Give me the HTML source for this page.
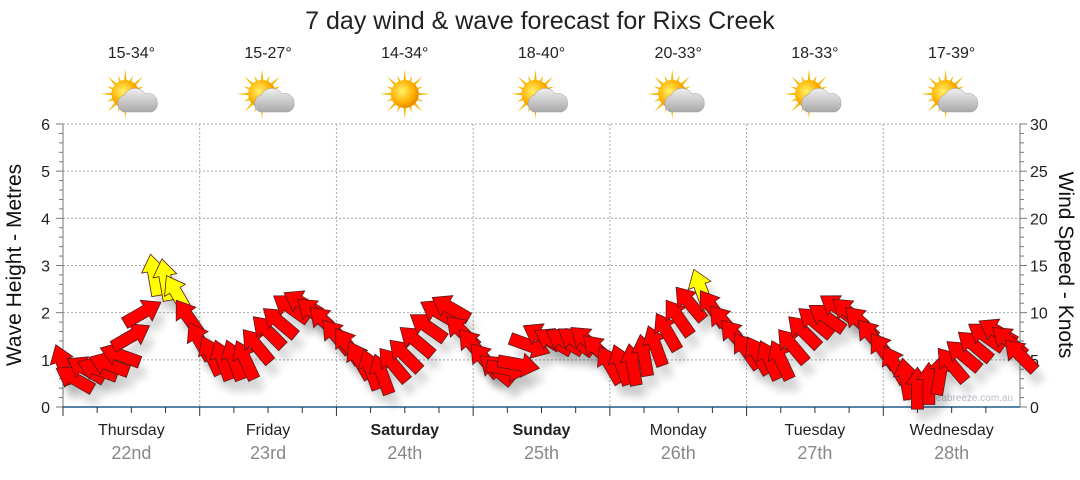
<!DOCTYPE html>
<html><head><meta charset="utf-8"><style>
body{margin:0;background:#fff;}
svg text{font-family:"Liberation Sans",sans-serif;}
</style></head><body>
<svg id="chart" width="1080" height="475" viewBox="0 0 1080 475">
<defs>
<filter id="sh" x="-50%" y="-50%" width="200%" height="200%"><feGaussianBlur stdDeviation="4"/></filter>
<radialGradient id="sun" cx="40%" cy="40%" r="60%"><stop offset="0" stop-color="#fff26a"/><stop offset="0.7" stop-color="#ffb000"/><stop offset="1" stop-color="#e88a00"/></radialGradient>
<linearGradient id="cloud" x1="0" y1="0" x2="0" y2="1"><stop offset="0" stop-color="#f0f0f0"/><stop offset="1" stop-color="#a8a8a8"/></linearGradient>
</defs>
<text x="540" y="29" font-size="25" text-anchor="middle" fill="#222">7 day wind &amp; wave forecast for Rixs Creek</text>
<g id="grid"></g>
<g id="axes"></g>
<g id="icons"></g>
<text x="960" y="401" font-size="10" fill="#b8bcc8" text-anchor="middle">www.seabreeze.com.au</text>
<g id="shadows"></g>
<g id="arrows"></g>
<text transform="translate(21,265) rotate(-90)" font-size="21" text-anchor="middle" fill="#111">Wave Height - Metres</text>
<text transform="translate(1059,265) rotate(90)" font-size="21" text-anchor="middle" fill="#111">Wind Speed - Knots</text>
</svg>
<script>
const days=["Thursday","Friday","Saturday","Sunday","Monday","Tuesday","Wednesday"];
const dates=["22nd","23rd","24th","25th","26th","27th","28th"];
const temps=["15-34°","15-27°","14-34°","18-40°","20-33°","18-33°","17-39°"];
const icons=["partly","partly","sunny","partly","partly","partly","partly"];
const waveTicks=[0,1,2,3,4,5,6];
const windTicks=[0,5,10,15,20,25,30];
const windSpeed=[4.5,3,4,4,4.5,5.5,7.5,10,14,13.5,12,9.5,
 7,5.5,5,5,5,6.5,8,9,10.5,11,10,9,
 7.5,6.5,5,4,3.5,4.5,5.5,7,8.5,10,10.5,8,
 6.5,5,4,4,4.5,6.5,7.5,7,7,7,7,6,
 4.5,4.5,4.5,5.5,6.5,8,9.5,11,12.5,10.5,9,7.5,
 6,5.5,5,5,6.5,8,9,9.5,10.5,10,9,7.5,
 6,4.5,3,2,2.5,3.5,4.5,5.5,6.5,7.5,8,7,5.5];
const windDir=[-20,-60,-60,-70,-70,-70,60,60,-10,-10,-30,-35,
 -30,-25,-20,-20,-25,-40,-45,-50,-55,-60,-50,-45,
 -40,-35,-30,-20,-20,-40,-45,-50,-55,-60,-60,-45,
 -40,-40,-50,100,100,110,-60,-60,-60,-55,-50,-45,
 -30,-20,-10,-10,-20,-30,-35,-40,-20,-35,-40,-40,
 -35,-30,-25,-25,-40,-45,-50,-55,-55,-50,-45,-40,
 -35,-30,-10,0,0,10,-40,-50,-50,-55,-60,-50,-45];
const X0=63,X1=1020,Y0=407,Y1=124,DAYW=(X1-X0)/7;
const yW=v=>Y0-(v/30)*(Y0-Y1);
const yH=v=>Y0-(v/6)*(Y0-Y1);
const xT=i=>X0+i*DAYW/12;
const NS="http://www.w3.org/2000/svg";
function mk(tag,attrs,parent){const e=document.createElementNS(NS,tag);for(const k in attrs)e.setAttribute(k,attrs[k]);parent.appendChild(e);return e;}
const grid=document.getElementById('grid'),axes=document.getElementById('axes');
waveTicks.forEach(v=>{
 if(v>0){const l=mk('line',{x1:X0,x2:X1,y1:yH(v),y2:yH(v),stroke:'#aaa','stroke-dasharray':'2,2'},grid);
 
 }
 const t=mk('text',{x:50,y:yH(v)+6,'font-size':16,'text-anchor':'end',fill:'#222'},axes);t.textContent=v;
 
 
});
windTicks.forEach(v=>{
 const t=mk('text',{x:1030,y:yW(v)+6,'font-size':16,fill:'#222'},axes);t.textContent=v;
 
 
});
for(let i=0;i<=30;i++){const y=Y0-i*(Y0-Y1)/30;const L=i%5==0?7:4;
 mk('line',{x1:X0-L,x2:X0,y1:y,y2:y,stroke:'#777'},axes);
 mk('line',{x1:X1,x2:X1+L,y1:y,y2:y,stroke:'#777'},axes);}
mk('line',{x1:X0,x2:X0,y1:Y1,y2:Y0,stroke:'#777'},axes);
mk('line',{x1:X1,x2:X1,y1:Y1,y2:Y0,stroke:'#777'},axes);
mk('line',{x1:X0,x2:X1,y1:Y0,y2:Y0,stroke:'#1f5a88','stroke-width':1.5},axes);
for(let d=0;d<7;d++){
 const x=X0+d*DAYW,cx=x+DAYW/2;
 if(d>0){const g=mk('line',{x1:x,x2:x,y1:Y1,y2:Y0,stroke:'#aaa','stroke-dasharray':'2,2'},grid);
 
 }
 for(let k=0;k<4;k++)mk('line',{x1:x+k*DAYW/4,x2:x+k*DAYW/4,y1:Y0,y2:Y0+(k==0?9:6),stroke:'#333'},axes);
 const bold=(d==2||d==3)?'bold':'normal';
 const t=mk('text',{x:cx,y:435,'font-size':16,'text-anchor':'middle',fill:'#222','font-weight':bold},axes);t.textContent=days[d];
 
 
 const t2=mk('text',{x:cx,y:459,'font-size':18,'text-anchor':'middle',fill:'#888'},axes);t2.textContent=dates[d];
 
 
 const t3=mk('text',{x:cx,y:58,'font-size':16,'text-anchor':'middle',fill:'#222'},axes);t3.textContent=temps[d];
 
 
 const g=mk('g',{transform:`translate(${cx},98)`},document.getElementById('icons'));
 
 
 const ox=icons[d]=='sunny'?0:-6;
 for(let r=0;r<16;r++){const a=r*Math.PI/8,L=r%2?20:25;
  mk('polygon',{points:`${ox+Math.cos(a-0.12)*12},${-4+Math.sin(a-0.12)*12} ${ox+Math.cos(a)*L},${-4+Math.sin(a)*L} ${ox+Math.cos(a+0.12)*12},${-4+Math.sin(a+0.12)*12}`,fill:'#f5b800'},g);}
 mk('circle',{cx:ox,cy:-4,r:14,fill:'url(#sun)'},g);
 if(icons[d]!='sunny'){
  mk('path',{d:'M-8,14 a9,9 0 0 1 1,-17 a12,12 0 0 1 21,-1 a9,9 0 0 1 12,9 a8,8 0 0 1 -6,9 z',fill:'url(#cloud)',stroke:'#999','stroke-width':0.5},g);}
}
const arrows=document.getElementById('arrows'),shadows=document.getElementById('shadows');
const shape="M-6,21 L-6,-4 L-12,-4 L0,-21 L12,-4 L6,-4 L6,21 Z";
windSpeed.forEach((v,i)=>{
 const x=xT(i),y=yW(v),a=windDir[i];
 const s=mk('path',{d:shape,transform:`translate(${x+6},${y+12}) rotate(${a})`,fill:'#000',opacity:0.15,filter:'url(#sh)'},shadows);
 
 
 const p=mk('path',{d:shape,transform:`translate(${x},${y}) rotate(${a})`,fill:v>=12?'#ffff00':'#ff0000',stroke:'#5a1a1a','stroke-width':0.8},arrows);
 
 
});
</script>
</body></html>
